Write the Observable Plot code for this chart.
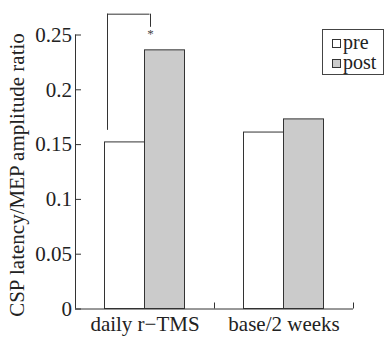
<!DOCTYPE html>
<html><head><meta charset="utf-8">
<script src="https://cdn.jsdelivr.net/npm/d3@7"></script>
<script src="https://cdn.jsdelivr.net/npm/@observablehq/plot@0.6"></script>
<style>
body{margin:0;background:#fff;}
#wrap{position:relative;width:385px;height:342px;overflow:hidden;}
.legend{position:absolute;left:322px;top:29px;width:62px;height:46px;border:1px solid #444;box-sizing:border-box;background:#fff;font-family:"Liberation Serif","DejaVu Serif",serif;font-size:20px;color:#222;padding-top:2px;}
.legend div{height:20px;line-height:20px;padding-left:9px;white-space:nowrap;}
.legend span.sw{display:inline-block;width:7px;height:7px;border:1px solid #333;margin-right:2px;vertical-align:1px;}
</style></head>
<body><div id="wrap"></div>
<script>
const groups = ["daily r−TMS", "base/2 weeks"];
const phases = ["pre", "post"];
const preValues = [0.152, 0.161];
const postValues = [0.236, 0.173];
const yTicks = [0, 0.05, 0.1, 0.15, 0.2, 0.25];
const sigGroup = "daily r−TMS";
const sigLeftFoot = 0.163, sigTop = 0.269, sigRightFoot = 0.257, sigStarY = 0.251;
const phaseFill = {pre: "#ffffff", post: "#cbcbcb"};

const rows = groups.flatMap((g, i) => [
  {group: g, phase: "pre", value: preValues[i]},
  {group: g, phase: "post", value: postValues[i]}
]);
const font = '"Liberation Serif","DejaVu Serif",serif';

const plot = Plot.plot({
  width: 385, height: 342,
  marginLeft: 75, marginRight: 32, marginTop: 34.5, marginBottom: 33.5,
  style: {fontFamily: font, fontSize: "21px", background: "white", color: "#222", overflow: "visible"},
  x: {domain: groups, paddingInner: 0, paddingOuter: 0, axis: null, label: null},
  y: {domain: [0, 0.25], axis: null, label: null},
  marks: [
    Plot.barY(rows.filter(d => d.phase === "pre"), {x: "group", y: "value", fill: phaseFill.pre, stroke: "#333", insetLeft: 29.5, insetRight: 69.5}),
    Plot.barY(rows.filter(d => d.phase === "post"), {x: "group", y: "value", fill: phaseFill.post, stroke: "#333", insetLeft: 69.5, insetRight: 29.5}),
    Plot.ruleY([0], {stroke: "#333"}),
    Plot.ruleX([groups[0]], {x: d => d, y1: 0, y2: 0.25, dx: -69.5, stroke: "#333"}),
    Plot.axisY({ticks: yTicks, tickSize: -6, tickPadding: 9.5, tickFormat: d => String(d), label: null, stroke: "#333", fontSize: 21, fill: "#222"}),
    Plot.axisX({tickSize: -6, dx: 69.5, tickFormat: () => "", label: null, stroke: "#333"}),
    Plot.axisX({tickSize: 0, tickPadding: 7.5, label: null, fontSize: 21, fill: "#222"}),
    Plot.text(["CSP latency/MEP amplitude ratio"], {frameAnchor: "left", textAnchor: "middle", dx: -58, dy: 3, rotate: -90, fontSize: 21, fill: "#222"}),
    // significance bracket
    Plot.ruleX([sigGroup], {x: d => d, y1: sigLeftFoot, y2: sigTop, dx: -37.5, stroke: "#333"}),
    Plot.ruleX([sigGroup], {x: d => d, y1: sigRightFoot, y2: sigTop, dx: 5.5, stroke: "#333"}),
    Plot.tickY([sigGroup], {x: d => d, y: () => sigTop, insetLeft: 32, insetRight: 64.5, stroke: "#333"}),
    Plot.text([sigGroup], {x: d => d, y: () => sigStarY, text: () => "*", dx: 5.5, fontSize: 13, fill: "#444"})
  ]
});
const wrap = document.getElementById("wrap");
wrap.appendChild(plot);
const legend = document.createElement("div");
legend.className = "legend";
legend.innerHTML = phases.map(p => `<div><span class="sw" style="background:${phaseFill[p]}"></span>${p}</div>`).join("");
wrap.appendChild(legend);
</script>
</body></html>
